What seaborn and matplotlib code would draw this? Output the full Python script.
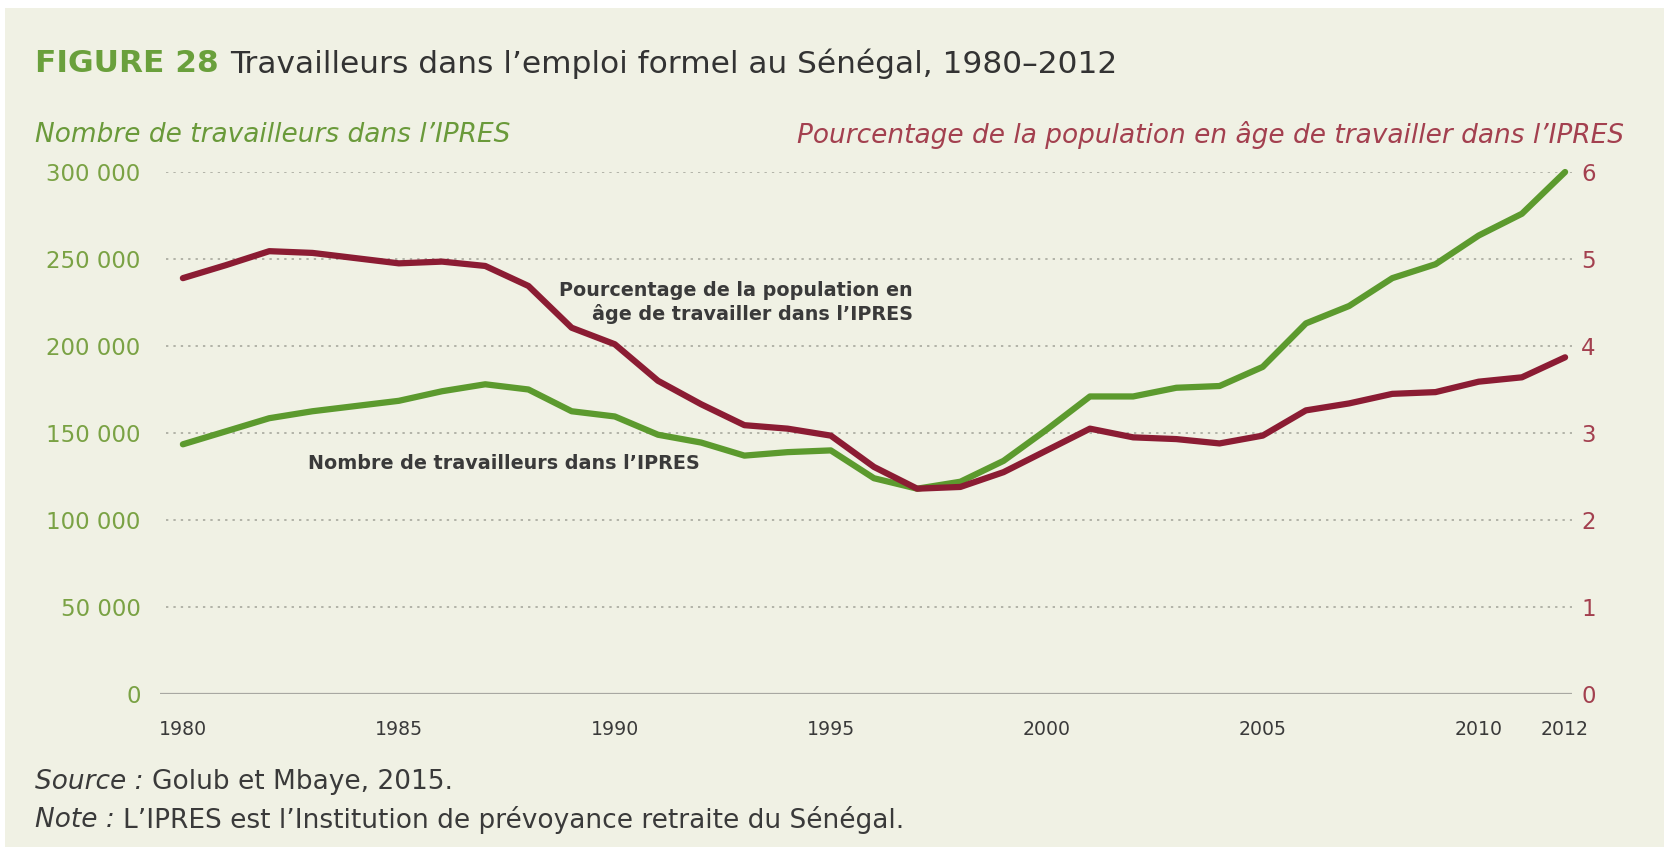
import numpy as np
import pandas as pd
import matplotlib
matplotlib.use("Agg")
import matplotlib.pyplot as plt
import seaborn as sns

# Data
years = [1980, 1981, 1982, 1983, 1984, 1985, 1986, 1987, 1988, 1989, 1990,
         1991, 1992, 1993, 1994, 1995, 1996, 1997, 1998, 1999, 2000,
         2001, 2002, 2003, 2004, 2005, 2006, 2007, 2008, 2009, 2010, 2011, 2012]
workers = [143500, 151000, 158500, 162500, 165500, 168500, 174000, 178000, 175000, 162500, 159500,
           149000, 144500, 137000, 139000, 140000, 124000, 118000, 122000, 134000, 152000,
           171000, 171000, 176000, 177000, 188000, 213000, 223000, 239000, 247000, 263500, 276000, 300000]
pct_pop = [4.78, 4.93, 5.09, 5.07, 5.01, 4.95, 4.97, 4.92, 4.69, 4.21, 4.02,
           3.60, 3.33, 3.09, 3.05, 2.97, 2.61, 2.36, 2.38, 2.55, 2.80,
           3.05, 2.95, 2.93, 2.88, 2.97, 3.26, 3.34, 3.45, 3.47, 3.59, 3.64, 3.87]
left_ticks = [0, 50000, 100000, 150000, 200000, 250000, 300000]
left_labels = ["0", "50 000", "100 000", "150 000", "200 000", "250 000", "300 000"]
right_ticks = [0, 1, 2, 3, 4, 5, 6]
x_ticks = [1980, 1985, 1990, 1995, 2000, 2005, 2010, 2012]

df = pd.DataFrame({"annee": years, "travailleurs": workers, "pct": pct_pop})

# Colours
BG = "#f0f1e4"
GREEN = "#5c9a2e"
RED = "#8b1c33"
GREEN_TXT = "#7aa244"
RED_TXT = "#a3404f"
DARK = "#3a3a3a"

sns.set_style("white")
plt.rcParams["font.family"] = ["DejaVu Sans"]

W, H = 1664, 847
fig = plt.figure(figsize=(W / 100, H / 100), dpi=100)
fig.patch.set_facecolor("white")
fig.patches.append(plt.Rectangle((5 / W, 0), 1, 1 - 8 / H, transform=fig.transFigure,
                                 facecolor=BG, edgecolor="none", zorder=-10))

# axes box in pixels: left 160, right 1572, top 172, bottom 694
ax = fig.add_axes([160 / W, (H - 694) / H, (1572 - 160) / W, (694 - 172) / H])
ax.set_facecolor("none")
ax2 = ax.twinx()

sns.lineplot(data=df, x="annee", y="travailleurs", ax=ax, color=GREEN, lw=4.5,
             solid_capstyle="round", solid_joinstyle="round", clip_on=False)
sns.lineplot(data=df, x="annee", y="pct", ax=ax2, color=RED, lw=4.5,
             solid_capstyle="round", solid_joinstyle="round", clip_on=False)

ax.set_xlim(1979.47, 2012.16)
ax.set_ylim(0, 300000)
ax2.set_ylim(0, 6)

for a in (ax, ax2):
    for s in a.spines.values():
        s.set_visible(False)
    a.set_xlabel("")
    a.set_ylabel("")

# dotted gridlines and solid zero line
for v in left_ticks[1:]:
    ax.axhline(v, xmin=0.004, color="#b2b3a8", lw=1.4, ls=(0, (1.2, 2.6)), zorder=0)
ax.axhline(0, color="#a8a8a2", lw=1.6, zorder=0)

ax.set_yticks(left_ticks)
ax.set_yticklabels(left_labels)
ax.tick_params(axis="y", length=0, pad=14, labelsize=16.5, labelcolor=GREEN_TXT)
ax2.set_yticks(right_ticks)
ax2.set_yticklabels([str(t) for t in right_ticks])
ax2.tick_params(axis="y", length=0, pad=6.5, labelsize=16.5, labelcolor=RED_TXT)
ax.set_xticks(x_ticks)
ax.set_xticklabels([str(t) for t in x_ticks])
ax.tick_params(axis="x", length=0, pad=19, labelsize=13.6, labelcolor=DARK)

# in-plot labels
ax.text(1996.9, 225000, "Pourcentage de la population en\nâge de travailler dans l’IPRES",
        ha="right", va="center", fontsize=13.8, fontweight="bold", color=DARK,
        linespacing=1.3)
ax.text(1982.9, 132600, "Nombre de travailleurs dans l’IPRES", ha="left", va="center",
        fontsize=13.8, fontweight="bold", color=DARK)

# axis titles
fig.text(35 / W, 1 - 135 / H, "Nombre de travailleurs dans l’IPRES", ha="left", va="center",
         fontsize=19, style="italic", color="#6a9a3a")
fig.text(1624 / W, 1 - 135 / H, "Pourcentage de la population en âge de travailler dans l’IPRES",
         ha="right", va="center", fontsize=19, style="italic", color=RED_TXT)

# title and footnotes with mixed styles
renderer = fig.canvas.get_renderer()


def mixed(x_px, y_px, parts):
    x = x_px
    for txt, kw in parts:
        t = fig.text(x / W, 1 - y_px / H, txt, ha="left", va="center", **kw)
        bb = t.get_window_extent(renderer=renderer)
        x = bb.x1


mixed(35, 64, [("FIGURE 28 ", dict(fontsize=22.5, fontweight="bold", color="#6aa03c")),
               ("Travailleurs dans l’emploi formel au Sénégal, 1980–2012",
                dict(fontsize=22.5, color="#333333"))])
mixed(35, 782, [("Source : ", dict(fontsize=19, style="italic", color=DARK)),
                ("Golub et Mbaye, 2015.", dict(fontsize=19, color=DARK))])
mixed(35, 820, [("Note : ", dict(fontsize=19, style="italic", color=DARK)),
                ("L’IPRES est l’Institution de prévoyance retraite du Sénégal.",
                 dict(fontsize=19, color=DARK))])

fig.savefig("out.png", dpi=100, facecolor=fig.get_facecolor())
